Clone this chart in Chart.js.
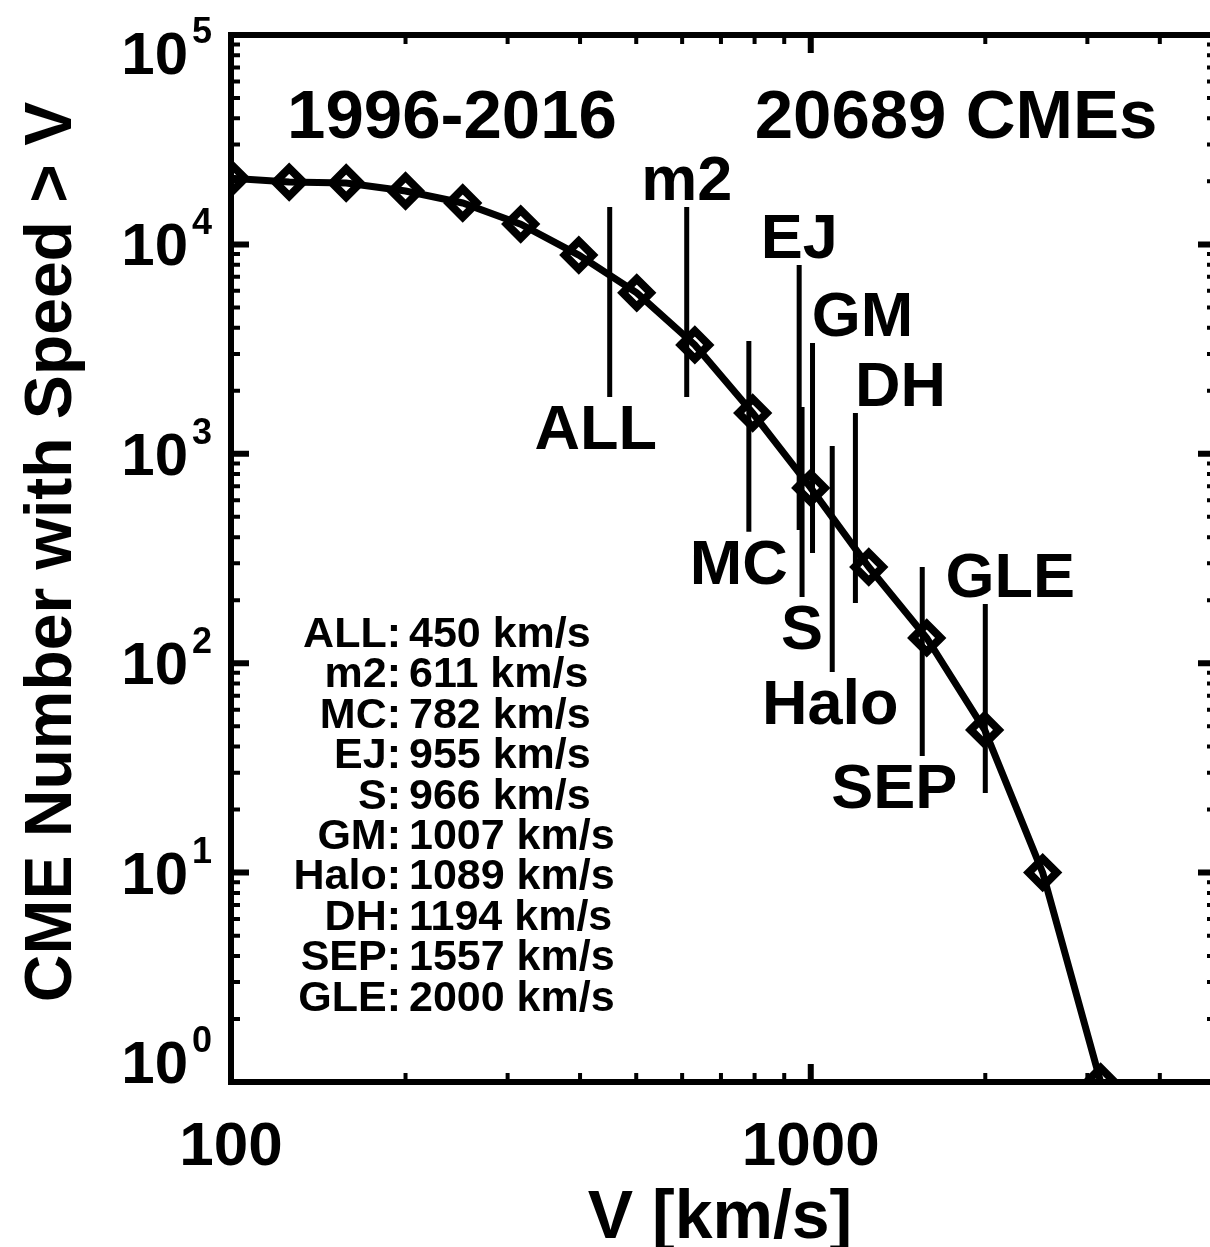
<!DOCTYPE html>
<html>
<head>
<meta charset="utf-8">
<script src="https://cdn.jsdelivr.net/npm/chart.js@4/dist/chart.umd.min.js"></script>
<style>
  html, body { margin: 0; padding: 0; background: #fff; overflow: hidden; }
</style>
</head>
<body>
<canvas id="cmeChart" width="1240" height="1247"></canvas>
<script>
// cumulative CME counts
const speeds = [100, 126, 158, 200, 251, 316, 398, 501, 631, 794, 1000, 1259, 1585, 1995, 2512, 3162];
const counts = [20689, 19850, 19640, 17990, 15770, 12500, 8890, 5870, 3310, 1566, 687, 288, 132, 48, 10, 1];

// average speeds of the CME populations and the extent of their marker lines
const markerNames = ["ALL", "m2", "MC", "EJ", "S", "GM", "Halo", "DH", "SEP", "GLE"];
const markerSpeeds = [450, 611, 782, 955, 966, 1007, 1089, 1194, 1557, 2000];
const markerTop = [15100, 15100, 3460, 7980, 1675, 3380, 1089, 1567, 288, 192];
const markerBottom = [1867, 1867, 424, 433, 207, 336, 90.8, 194, 36, 24];
const markerSide = ["below", "above", "below", "above", "below", "above", "below", "above", "below", "above"];
const markerDx = [-14, 0, -10, 0, 0, 50, -2, 45, -28, 25];

const xMajor = [100, 1000];
const xTickLabels = ["100", "1000"];
const yExponents = [0, 1, 2, 3, 4, 5];

const FONT = "'Liberation Sans', Arial, Helvetica, sans-serif";

const datasets = [{
  data: speeds.map((v, i) => ({ x: v, y: counts[i] })),
  borderColor: "#000",
  borderWidth: 7,
  pointStyle: "rectRot",
  pointRadius: 14,
  pointBorderWidth: 8,
  pointBorderColor: "#000",
  pointBackgroundColor: "rgba(0,0,0,0)",
  clip: 0
}];
markerSpeeds.forEach((s, i) => {
  datasets.push({
    data: [{ x: s, y: markerTop[i] }, { x: s, y: markerBottom[i] }],
    borderColor: "#000",
    borderWidth: 5,
    pointRadius: 0
  });
});

function minorValues(lo, hi) {
  const out = [];
  for (let e = Math.floor(Math.log10(lo)); Math.pow(10, e) <= hi; e++) {
    for (let m = 2; m <= 9; m++) {
      const v = m * Math.pow(10, e);
      if (v > lo && v < hi) out.push(v);
    }
  }
  return out;
}

const idlFrame = {
  id: "idlFrame",
  afterDatasetsDraw(chart) {
    const { ctx, chartArea: a, scales: { x, y } } = chart;
    ctx.save();
    ctx.strokeStyle = "#000";
    ctx.fillStyle = "#000";

    // x ticks on bottom and top (inward)
    const xTicks = xMajor.map(v => [v, 18, 6]).concat(minorValues(100, 5000).map(v => [v, 9, 4]));
    xTicks.forEach(([v, len, w]) => {
      const px = x.getPixelForValue(v);
      ctx.lineWidth = w;
      ctx.beginPath();
      ctx.moveTo(px, a.bottom); ctx.lineTo(px, a.bottom - len);
      ctx.moveTo(px, a.top); ctx.lineTo(px, a.top + len);
      ctx.stroke();
    });
    // y ticks on left and right
    const yTicks = yExponents.map(e => [Math.pow(10, e), 18, 6]).concat(minorValues(1, 100000).map(v => [v, 9, 4]));
    yTicks.forEach(([v, len, w]) => {
      const py = y.getPixelForValue(v);
      ctx.lineWidth = w;
      ctx.beginPath();
      ctx.moveTo(a.left, py); ctx.lineTo(a.left + len, py);
      ctx.moveTo(a.right, py); ctx.lineTo(a.right - len, py);
      ctx.stroke();
    });

    ctx.lineWidth = 6;
    ctx.strokeRect(a.left, a.top, a.right - a.left, a.bottom - a.top);

    // tick labels
    ctx.textAlign = "center";
    ctx.textBaseline = "alphabetic";
    ctx.font = "bold 62px " + FONT;
    xMajor.forEach((v, i) => ctx.fillText(xTickLabels[i], x.getPixelForValue(v), 1165));

    yExponents.forEach(e => {
      let cy = y.getPixelForValue(Math.pow(10, e));
      cy = Math.min(Math.max(cy, a.top + 18), a.bottom - 20);
      const base = cy + 21;
      ctx.textAlign = "right";
      ctx.font = "bold 60px " + FONT;
      ctx.fillText("10", 188, base);
      ctx.textAlign = "left";
      ctx.font = "bold 36px " + FONT;
      ctx.fillText(String(e), 192, base - 31);
    });

    // axis titles
    ctx.textAlign = "center";
    ctx.font = "bold 68px " + FONT;
    ctx.fillText("V [km/s]", 720, 1238);
    ctx.font = "bold 66px " + FONT;
    ctx.save();
    ctx.translate(71, 552);
    ctx.rotate(-Math.PI / 2);
    ctx.fillText("CME Number with Speed > V", 0, 0);
    ctx.restore();

    // header texts inside the frame
    ctx.font = "bold 69px " + FONT;
    ctx.fillText("1996-2016", 452, 138);
    ctx.fillText("20689 CMEs", 956, 138);

    // population labels at the ends of the marker lines
    ctx.font = "bold 63px " + FONT;
    markerNames.forEach((name, i) => {
      const px = x.getPixelForValue(markerSpeeds[i]) + markerDx[i];
      const base = markerSide[i] === "above"
        ? y.getPixelForValue(markerTop[i]) - 7
        : y.getPixelForValue(markerBottom[i]) + 52;
      ctx.fillText(name, px, base);
    });

    // speed list
    ctx.font = "bold 43px " + FONT;
    markerNames.forEach((name, i) => {
      const base = 647 + i * 40.4;
      ctx.textAlign = "right";
      ctx.fillText(name + ":", 401, base);
      ctx.textAlign = "left";
      ctx.fillText(markerSpeeds[i] + " km/s", 409, base);
    });
    ctx.restore();
  }
};

new Chart(document.getElementById("cmeChart"), {
  type: "line",
  data: { datasets: datasets },
  options: {
    responsive: false,
    animation: false,
    devicePixelRatio: 1,
    layout: { padding: { left: 231, top: 35, right: 24, bottom: 165 } },
    plugins: { legend: { display: false }, tooltip: { enabled: false } },
    scales: {
      x: { type: "logarithmic", min: 100, max: 5000, display: false },
      y: { type: "logarithmic", min: 1, max: 100000, display: false }
    }
  },
  plugins: [idlFrame]
});
</script>
</body>
</html>
